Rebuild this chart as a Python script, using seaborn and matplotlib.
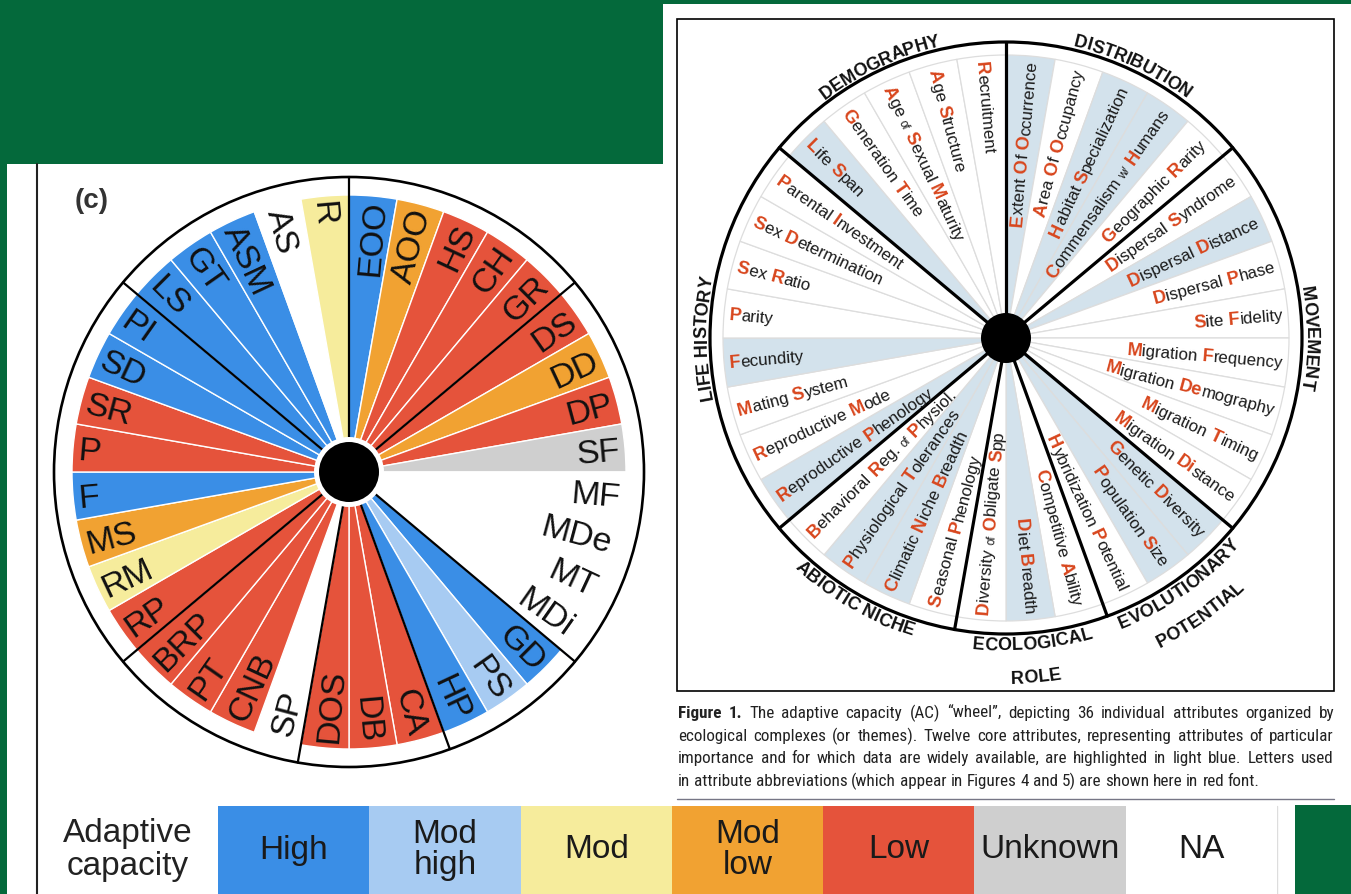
import numpy as np
import matplotlib
matplotlib.use("Agg")
import matplotlib.pyplot as plt
from matplotlib.patches import Wedge, Circle, Rectangle
from matplotlib.font_manager import FontProperties, fontManager
import seaborn as sns

W, H = 1351, 894

# ---- data ----
group_names = ["DISTRIBUTION", "MOVEMENT", "EVOLUTIONARY\nPOTENTIAL", "ECOLOGICAL\nROLE",
               "ABIOTIC NICHE", "LIFE HISTORY", "DEMOGRAPHY"]
group_sizes = [5, 8, 3, 3, 4, 8, 5]

abbrevs = ["EOO", "AOO", "HS", "CH", "GR",
           "DS", "DD", "DP", "SF", "MF", "MDe", "MT", "MDi",
           "GD", "PS", "HP",
           "CA", "DB", "DOS",
           "SP", "CNB", "PT", "BRP",
           "RP", "RM", "MS", "F", "P", "SR", "SD", "PI",
           "LS", "GT", "ASM", "AS", "R"]

ac_levels = ["High", "Mod low", "Low", "Low", "Low",
             "Low", "Mod low", "Low", "Unknown", "NA", "NA", "NA", "NA",
             "High", "Mod high", "High",
             "Low", "Low", "Low",
             "NA", "Low", "Low", "Low",
             "Low", "Mod", "Mod low", "High", "Low", "Low", "High", "High",
             "High", "High", "High", "NA", "Mod"]

# [x] = red letters, {x} = small text
attr_names = ["[E]xtent [O]f [O]ccurrence", "[A]rea [O]f [O]ccupancy", "[H]abitat [S]pecialization",
              "[C]ommensalism {w/} [H]umans", "[G]eographic [R]arity",
              "[D]ispersal [S]yndrome", "[D]ispersal [D]istance", "[D]ispersal [P]hase", "[S]ite [F]idelity",
              "[M]igration [F]requency", "[M]igration [De]mography", "[M]igration [T]iming",
              "[M]igration [Di]stance",
              "[G]enetic [D]iversity", "[P]opulation [S]ize", "[H]ybridization [P]otential",
              "[C]ompetitive [A]bility", "[D]iet [B]readth", "[D]iversity {of} [O]bligate [S]pp",
              "[S]easonal [P]henology", "[C]limatic [N]iche [B]readth", "[P]hysiological [T]olerances",
              "[B]ehavioral [R]eg. {of} [P]hysiol.",
              "[R]eproductive [P]henology", "[R]eproductive [M]ode", "[M]ating [S]ystem", "[F]ecundity",
              "[P]arity", "[S]ex [R]atio", "[S]ex [D]etermination", "[P]arental [I]nvestment",
              "[L]ife [S]pan", "[G]eneration [T]ime", "[A]ge {of} [S]exual [M]aturity", "[A]ge [S]tructure",
              "[R]ecruitment"]

core_attr = [1, 0, 1, 1, 0,
             0, 1, 0, 0, 0, 0, 0, 0,
             1, 1, 0,
             0, 1, 0,
             0, 1, 1, 0,
             1, 0, 0, 1, 0, 0, 0, 0,
             1, 0, 0, 0, 0]

level_names = ["High", "Mod high", "Mod", "Mod low", "Low", "Unknown", "NA"]
level_colors = ["#3a8ee6", "#a7cbf2", "#f6ec9c", "#f1a232", "#e5533b", "#cfcfcf", "#ffffff"]

caption_lines = [
    "Figure 1. The adaptive capacity (AC) \u201cwheel\u201d, depicting 36 individual attributes organized by",
    "ecological complexes (or themes). Twelve core attributes, representing attributes of particular",
    "importance and for which data are widely available, are highlighted in light blue. Letters used",
    "in attribute abbreviations (which appear in Figures 4 and 5) are shown here in red font.",
]

GREEN = "#04693b"
RED = "#d8461d"
TXT = "#1a1a1a"
CORE_BLUE = "#d3e2ec"
BASE_FAM = ['Liberation Sans', 'DejaVu Sans']

sns.set_theme(style="white")
plt.rcParams['font.family'] = BASE_FAM

fig = plt.figure(figsize=(W / 100, H / 100), dpi=100)
fig.patch.set_facecolor(GREEN)
ax = fig.add_axes([0, 0, 1, 1])
ax.set_xlim(0, W)
ax.set_ylim(0, H)
ax.axis('off')
renderer = fig.canvas.get_renderer()


def Y(y):
    return H - y


def text_w(s, fp):
    w1 = renderer.get_text_width_height_descent('|' + s + '|', fp, ismath=False)[0]
    w0 = renderer.get_text_width_height_descent('||', fp, ismath=False)[0]
    return w1 - w0


def base_fp(size, weight='normal'):
    return FontProperties(family=BASE_FAM, size=size, weight=weight)


# look for a condensed face for the caption
def find_condensed():
    cands = [f for f in fontManager.ttflist
             if (('Narrow' in f.name or 'Condensed' in f.name or 'Cond' in f.fname
                  or str(f.stretch) in ('condensed', 'semi-condensed', 'extra-condensed'))
                 and f.style == 'normal' and f.fname.lower().endswith(('.ttf', '.otf')))]
    pref = ['Liberation Sans Narrow', 'Roboto Condensed', 'Open Sans Condensed', 'Noto Sans',
            'DejaVu Sans']
    cands.sort(key=lambda f: pref.index(f.name) if f.name in pref else len(pref))
    for c in cands:
        reg = [f for f in cands if f.name == c.name and f.stretch == c.stretch
               and (f.weight in (400, 'normal', 'regular', 'book'))]
        bld = [f for f in cands if f.name == c.name and f.stretch == c.stretch
               and (f.weight in (700, 'bold'))]
        if reg:
            return reg[0].fname, (bld[0].fname if bld else None)
    return None, None


reg_file, bold_file = find_condensed()

# ---- panels ----
ax.add_patch(Rectangle((7, Y(894)), 656, 894 - 164, fc='white', ec='none'))
ax.add_patch(Rectangle((663, Y(805)), W - 663, 801, fc='white', ec='none'))
ax.add_patch(Rectangle((7, Y(894)), 1288, 894 - 800, fc='white', ec='none'))
ax.plot([37, 37], [Y(164), Y(894)], color='#222222', lw=1.5)

centers = 85 - 10 * np.arange(36)
bounds = 90 - 10 * np.concatenate([[0], np.cumsum(group_sizes)[:-1]])

# ---- left wheel (c) ----
lcx, lcy = 349, Y(472)
color_of = dict(zip(level_names, level_colors))
ax.add_patch(Circle((lcx, lcy), 295, fc='white', ec='black', lw=1.9, zorder=1))
for th, lev in zip(centers, ac_levels):
    ax.add_patch(Wedge((lcx, lcy), 277, th - 5, th + 5, fc=color_of[lev], ec='white', lw=1.0, zorder=2))
for b in bounds:
    t = np.radians(b)
    ax.plot([lcx, lcx + 295 * np.cos(t)], [lcy, lcy + 295 * np.sin(t)], color='black', lw=1.6, zorder=3)
ax.add_patch(Circle((lcx, lcy), 35, fc='white', ec='none', zorder=4))
ax.add_patch(Circle((lcx, lcy), 30, fc='black', ec='none', zorder=5))
for th, ab in zip(centers, abbrevs):
    t = np.radians(th)
    px, py = lcx + 272 * np.cos(t), lcy + 272 * np.sin(t)
    if np.cos(t) >= 0:
        ax.text(px, py, ab, rotation=th, rotation_mode='anchor', ha='right', va='center_baseline',
                fontsize=24.5, color='#111111', zorder=6)
    else:
        ax.text(px, py, ab, rotation=th + 180, rotation_mode='anchor', ha='left', va='center_baseline',
                fontsize=24.5, color='#111111', zorder=6)
ax.text(75, Y(198), "(c)", fontsize=20, fontweight='bold', color='#333333', ha='left', va='center_baseline')

# ---- right wheel ----
ax.add_patch(Rectangle((677, Y(691)), 1334 - 677, 691 - 19, fc='white', ec='black', lw=1.2))
rcx, rcy = 1006, Y(338)
ax.add_patch(Circle((rcx, rcy), 296, fc='white', ec='black', lw=2.3, zorder=1))
for th, c in zip(centers, core_attr):
    ax.add_patch(Wedge((rcx, rcy), 283, th - 5, th + 5, fc=CORE_BLUE if c else 'white',
                       ec='#dddddd', lw=0.9, zorder=2))
for b in bounds:
    t = np.radians(b)
    ax.plot([rcx, rcx + 296 * np.cos(t)], [rcy, rcy + 296 * np.sin(t)], color='black', lw=2.3, zorder=3)
ax.add_patch(Circle((rcx, rcy), 25, fc='black', ec='none', zorder=5))


def parse(label):
    segs, buf, mode = [], '', 'n'
    for ch in label:
        if ch in '[{':
            if buf:
                segs.append((buf, 'n'))
            buf, mode = '', ('r' if ch == '[' else 's')
        elif ch in ']}':
            segs.append((buf, mode))
            buf, mode = '', 'n'
        else:
            buf += ch
    if buf:
        segs.append((buf, 'n'))
    return segs


def rich_label(cx, cy, r_anchor, theta, label, size):
    specs = []
    for s, m in parse(label):
        if m == 'r':
            fs, wt, col = size * 1.08, 'bold', RED
        elif m == 's':
            fs, wt, col = size * 0.68, 'normal', TXT
        else:
            fs, wt, col = size, 'normal', TXT
        specs.append((s, fs, wt, col, text_w(s, base_fp(fs, wt))))
    total = sum(sp[4] for sp in specs)
    t = np.radians(theta)
    if np.cos(t) >= 0:
        phi = theta
        ux, uy = np.cos(t), np.sin(t)
        sx, sy = cx + (r_anchor - total) * ux, cy + (r_anchor - total) * uy
    else:
        phi = theta + 180
        ux, uy = -np.cos(t), -np.sin(t)
        sx, sy = cx + r_anchor * np.cos(t), cy + r_anchor * np.sin(t)
    nx, ny = -uy, ux
    half_cap = 0.72 * size * 100 / 72 / 2
    sx -= nx * half_cap
    sy -= ny * half_cap
    pos = 0
    for s, fs, wt, col, w in specs:
        ax.text(sx + ux * pos, sy + uy * pos, s, rotation=phi, rotation_mode='anchor', ha='left',
                va='baseline', fontsize=fs, fontweight=wt, color=col, zorder=6)
        pos += w


for th, name in zip(centers, attr_names):
    rich_label(rcx, rcy, 278, th, name, 12.2)


def arc_text(cx, cy, r, ang_c, text, size, outward=True):
    widths = [text_w(c, base_fp(size, 'bold')) for c in text]
    span = np.degrees(sum(widths) / r)
    a = ang_c + span / 2 if outward else ang_c - span / 2
    for c, w in zip(text, widths):
        step = np.degrees(w / r)
        am = a - step / 2 if outward else a + step / 2
        t = np.radians(am)
        ax.text(cx + r * np.cos(t), cy + r * np.sin(t), c, rotation=(am - 90) if outward else (am + 90),
                rotation_mode='anchor', ha='center', va='center_baseline', fontsize=size,
                fontweight='bold', color='#111111', zorder=6)
        a = a - step if outward else a + step


for gname, b, n in zip(group_names, bounds, group_sizes):
    ang_c = b - 5 * n
    outward = np.sin(np.radians(ang_c)) > -0.6
    for k, line in enumerate(gname.split('\n')):
        arc_text(rcx, rcy, 306 + 33 * k, ang_c, line, 13, outward=outward)

# ---- caption ----
x0, x1 = 678, 1334
cap_y = [718, 741, 763, 786]


def cap_fp(size, weight):
    if reg_file is not None:
        f = bold_file if (weight == 'bold' and bold_file) else reg_file
        fp = FontProperties(fname=f, size=size)
        if weight == 'bold' and not bold_file:
            fp.set_weight('bold')
        return fp
    return base_fp(size, weight)


cap_size = 12.3
for _ in range(2):
    widest = 0
    for i, line in enumerate(caption_lines):
        words = line.split(' ')
        wts = ['bold' if (i == 0 and j < 2) else 'normal' for j in range(len(words))]
        ws = sum(text_w(wd, cap_fp(cap_size, wt)) for wd, wt in zip(words, wts))
        ws += (len(words) - 1) * text_w(' ', cap_fp(cap_size, 'normal'))
        widest = max(widest, ws)
    if widest > (x1 - x0):
        cap_size *= (x1 - x0) / widest * 0.995

for i, (line, yy) in enumerate(zip(caption_lines, cap_y)):
    words = line.split(' ')
    wts = ['bold' if (i == 0 and j < 2) else 'normal' for j in range(len(words))]
    fps = [cap_fp(cap_size, wt) for wt in wts]
    ws = [text_w(wd, fp) for wd, fp in zip(words, fps)]
    if i < len(caption_lines) - 1:
        gap = (x1 - x0 - sum(ws)) / (len(words) - 1)
    else:
        gap = text_w(' ', cap_fp(cap_size, 'normal'))
    x = x0
    for wd, fp, w in zip(words, fps, ws):
        ax.text(x, Y(yy), wd, fontproperties=fp, color='#222222', ha='left', va='baseline')
        x += w + gap
ax.plot([677, 1334], [Y(799), Y(799)], color='#767686', lw=1.0)

# ---- legend bar ----
ax.text(128, Y(850), "Adaptive\ncapacity", fontsize=24, color='#222222', ha='center', va='center',
        linespacing=1.05)
lax = fig.add_axes([218 / W, 0, (1277 - 218) / W, (894 - 806) / H])
sns.barplot(x=level_names, y=[1] * len(level_names), hue=level_names, palette=level_colors,
            width=1, saturation=1, legend=False, ax=lax, edgecolor='none')
lax.set_xlim(-0.5, len(level_names) - 0.5)
lax.set_ylim(0, 1)
lax.axis('off')
for k, name in enumerate(level_names):
    lax.text(k, 0.5, name.replace(' ', '\n'), fontsize=24, color='#1a1a1a', ha='center', va='center',
             linespacing=1.0)
ax.plot([1277, 1277], [Y(806), Y(894)], color='#dddddd', lw=1.0)

fig.savefig('out.png', dpi=100, facecolor=fig.get_facecolor())
